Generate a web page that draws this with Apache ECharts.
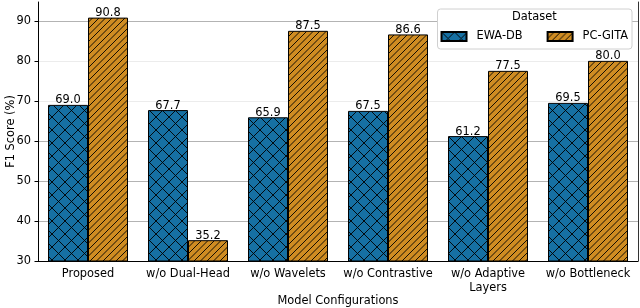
<!DOCTYPE html>
<html>
<head>
<meta charset="utf-8">
<script src="https://cdn.jsdelivr.net/npm/echarts@6/dist/echarts.min.js"></script>
<style>
html,body{margin:0;padding:0;background:#fff;}
#chart{width:640px;height:308px;}
</style>
</head>
<body>
<div id="chart"></div>
<script>
const categories = ['Proposed', 'w/o Dual-Head', 'w/o Wavelets', 'w/o Contrastive', 'w/o Adaptive\nLayers', 'w/o Bottleneck'];
const ewaDB = [69.0, 67.7, 65.9, 67.5, 61.2, 69.5];
const pcGita = [90.8, 35.2, 87.5, 86.6, 77.5, 80.0];
const yTicks = [30, 40, 50, 60, 70, 80, 90];
const seriesNames = ['EWA-DB', 'PC-GITA'];
const legendTitle = 'Dataset';
const xTitle = 'Model Configurations';
const yTitle = 'F1 Score (%)';

const FONT = 'DejaVu Sans';
const FS = 11.4;

function makePattern(bg, type) {
  const s = 13;
  const c = document.createElement('canvas');
  c.width = s; c.height = s;
  const ctx = c.getContext('2d');
  ctx.fillStyle = bg;
  ctx.fillRect(0, 0, s, s);
  ctx.strokeStyle = 'rgba(0,0,0,0.9)';
  ctx.lineWidth = 1;
  function seg(x1, y1, x2, y2) { ctx.beginPath(); ctx.moveTo(x1, y1); ctx.lineTo(x2, y2); ctx.stroke(); }
  if (type === 'cross') {
    [0, 13, 26].forEach(k => seg(-2, k + 2, k + 2, -2));
    [-13, 0, 13].forEach(k => seg(k - 2, -2, k + s + 2, s + 2));
  } else {
    [0, 6.5, 13, 19.5, 26].forEach(k => seg(-2, k + 2, k + 2, -2));
  }
  return { image: c, repeat: 'repeat' };
}

const blueFill = makePattern('#1670a3', 'cross');
const orangeFill = makePattern('#cf8c22', 'diag');

const chart = echarts.init(document.getElementById('chart'), null, { renderer: 'canvas' });

const labelCfg = {
  show: true,
  position: 'top',
  distance: -1,
  color: '#000',
  fontFamily: FONT,
  fontSize: FS,
  formatter: p => p.value.toFixed(1)
};

chart.setOption({
  animation: false,
  backgroundColor: '#fff',
  textStyle: { fontFamily: FONT },
  grid: { left: 38, top: 2, width: 600, height: 259, containLabel: false, outerBoundsMode: 'none' },
  legend: {
    right: 8,
    top: 9,
    padding: [22, 4, 7, 3],
    backgroundColor: '#fff',
    borderColor: '#d0d0d0',
    borderWidth: 1,
    borderRadius: 3,
    icon: 'rect',
    itemWidth: 25,
    itemHeight: 9,
    itemGap: 24,
    textStyle: { fontFamily: FONT, fontSize: FS, color: '#000', padding: [0, 0, 0, 5] },
    data: seriesNames,
    z: 20
  },
  graphic: [{
    type: 'text',
    left: 512,
    top: 12,
    z: 100,
    style: { text: legendTitle, fontFamily: FONT, fontSize: FS, fill: '#000' }
  }],
  xAxis: {
    type: 'category',
    data: categories,
    name: xTitle,
    nameLocation: 'middle',
    nameGap: 35,
    nameMoveOverlap: false,
    nameTextStyle: { fontFamily: FONT, fontSize: FS, color: '#000' },
    axisLine: { lineStyle: { color: '#000', width: 1 } },
    axisTick: { alignWithLabel: true, length: 3.5, lineStyle: { color: '#000' } },
    axisLabel: { margin: 6, fontFamily: FONT, fontSize: FS, color: '#000', lineHeight: 14, interval: 0 },
    splitLine: { show: false }
  },
  yAxis: [{
    type: 'value',
    min: 30,
    max: 94.7,
    interval: 10,
    name: yTitle,
    nameLocation: 'middle',
    nameGap: 21,
    nameMoveOverlap: false,
    nameTextStyle: { fontFamily: FONT, fontSize: FS, color: '#000' },
    axisLine: { show: true, lineStyle: { color: '#000', width: 1 } },
    axisTick: { show: true, length: 3.5, lineStyle: { color: '#000' }, customValues: yTicks },
    axisLabel: { margin: 7, fontFamily: FONT, fontSize: FS, color: '#000', customValues: yTicks },
    splitLine: {
      show: true,
      lineStyle: {
        width: 1,
        color: ['#b3b3b3', '#b3b3b3', '#b3b3b3', '#b3b3b3', '#ececec', '#ececec', '#b3b3b3', '#e4e4e4']
      }
    }
  }, {
    type: 'value',
    position: 'right',
    min: 30,
    max: 94.7,
    interval: 10,
    axisLine: { show: true, lineStyle: { color: '#333', width: 1 } },
    axisTick: { show: false },
    axisLabel: { show: false },
    splitLine: { show: false }
  }],
  series: [{
    name: seriesNames[0],
    type: 'bar',
    data: ewaDB,
    barWidth: 40,
    barGap: '0%',
    itemStyle: { color: blueFill, borderColor: '#000', borderWidth: 1 },
    label: labelCfg
  }, {
    name: seriesNames[1],
    type: 'bar',
    data: pcGita,
    barWidth: 40,
    barGap: '0%',
    itemStyle: { color: orangeFill, borderColor: '#000', borderWidth: 1 },
    label: labelCfg
  }]
});
</script>
</body>
</html>
